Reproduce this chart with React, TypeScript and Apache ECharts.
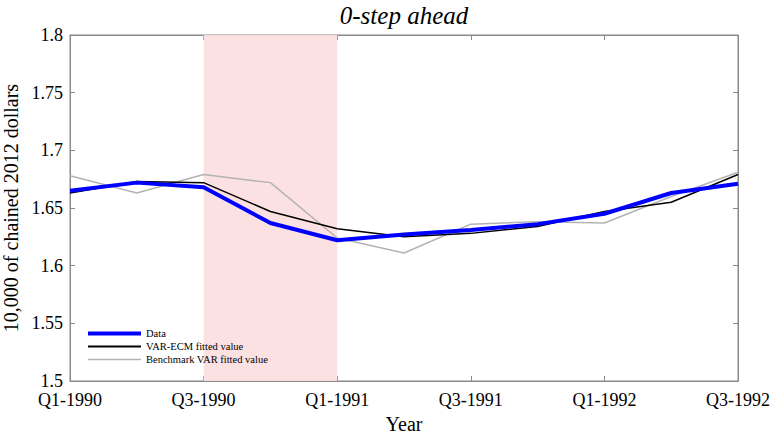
import React, { useEffect, useRef } from "react";
import * as echarts from "echarts";

const quarters = ["Q1-1990", "Q2-1990", "Q3-1990", "Q4-1990", "Q1-1991", "Q2-1991", "Q3-1991", "Q4-1991", "Q1-1992", "Q2-1992", "Q3-1992"];
const dataSeries = [1.665, 1.672, 1.668, 1.637, 1.622, 1.627, 1.631, 1.636, 1.645, 1.663, 1.671];
const varEcm = [1.663, 1.673, 1.672, 1.647, 1.632, 1.625, 1.628, 1.634, 1.647, 1.655, 1.679];
const benchmark = [1.678, 1.663, 1.679, 1.672, 1.624, 1.611, 1.636, 1.638, 1.637, 1.660, 1.681];
const recessionStart = "Q3-1990";
const recessionEnd = "Q1-1991";
const titleText = "0-step ahead";

const FONT = "'Liberation Serif', 'Times New Roman', Times, serif";

export default function App() {
  const ref = useRef<HTMLDivElement>(null);
  useEffect(() => {
    if (!ref.current) return;
    const chart = echarts.init(ref.current, null, { renderer: "svg" });
    const axisColor = "#8a8a8a";
    chart.setOption({
      animation: false,
      backgroundColor: "#ffffff",
      textStyle: { fontFamily: FONT },
      graphic: [
        {
          type: "text",
          x: 404,
          y: 3,
          style: {
            text: titleText,
            fill: "#000",
            font: "italic 25px 'Liberation Serif', 'Times New Roman', serif",
            textAlign: "center",
            textVerticalAlign: "top",
          },
        },
      ],
      grid: {
        left: 70,
        right: 34,
        top: 35,
        bottom: 57,
        containLabel: false,
        outerBoundsMode: "none",
        show: true,
        borderColor: axisColor,
        borderWidth: 1,
        backgroundColor: "transparent",
      },
      legend: {
        orient: "vertical",
        left: 81,
        top: 322,
        itemWidth: 53,
        itemHeight: 13,
        itemGap: 0,
        itemStyle: { opacity: 0 },
        textStyle: { fontFamily: FONT, fontSize: 10.5, lineHeight: 13, color: "#000" },
        data: [
          { name: "Data", lineStyle: { width: 4, color: "#0000ff" } },
          { name: "VAR-ECM fitted value", lineStyle: { width: 2, color: "#000000" } },
          { name: "Benchmark VAR fitted value", lineStyle: { width: 1.5, color: "#b3b3b3" } },
        ],
      },
      xAxis: [
        {
          type: "category",
          data: quarters,
          boundaryGap: false,
          name: "Year",
          nameLocation: "middle",
          nameGap: 31,
          nameTextStyle: { fontFamily: FONT, fontSize: 20, color: "#000" },
          axisLine: { show: true, lineStyle: { color: axisColor } },
          axisTick: { show: true, inside: true, length: 5, interval: 1, lineStyle: { color: axisColor } },
          axisLabel: { interval: 1, fontFamily: FONT, fontSize: 18, color: "#000", margin: 10 },
          splitLine: { show: false },
        },
        {
          type: "category",
          data: quarters,
          boundaryGap: false,
          position: "top",
          axisLine: { show: true, lineStyle: { color: axisColor } },
          axisTick: { show: true, inside: true, length: 5, interval: 1, lineStyle: { color: axisColor } },
          axisLabel: { show: false },
          splitLine: { show: false },
        },
      ],
      yAxis: [
        {
          type: "value",
          min: 1.5,
          max: 1.8,
          interval: 0.05,
          name: "10,000 of chained 2012 dollars",
          nameLocation: "middle",
          nameGap: 45,
          nameTextStyle: { fontFamily: FONT, fontSize: 20, color: "#000" },
          axisLine: { show: true, lineStyle: { color: axisColor } },
          axisTick: { show: true, inside: true, length: 5, lineStyle: { color: axisColor } },
          axisLabel: { fontFamily: FONT, fontSize: 18, color: "#000", margin: 7, formatter: (v: number) => String(parseFloat(v.toFixed(2))) },
          splitLine: { show: false },
        },
        {
          type: "value",
          min: 1.5,
          max: 1.8,
          interval: 0.05,
          position: "right",
          axisLine: { show: true, lineStyle: { color: axisColor } },
          axisTick: { show: true, inside: true, length: 5, lineStyle: { color: axisColor } },
          axisLabel: { show: false },
          splitLine: { show: false },
        },
      ],
      series: [
        {
          name: "Benchmark VAR fitted value",
          type: "line",
          data: benchmark,
          symbol: "none",
          z: 2,
          lineStyle: { color: "#b3b3b3", width: 1.5 },
          itemStyle: { color: "#b3b3b3" },
          markArea: {
            silent: true,
            itemStyle: { color: "rgba(252,222,224,0.9)" },
            data: [[{ xAxis: recessionStart }, { xAxis: recessionEnd }]],
          },
        },
        {
          name: "VAR-ECM fitted value",
          type: "line",
          data: varEcm,
          symbol: "none",
          z: 3,
          lineStyle: { color: "#000000", width: 1.5 },
          itemStyle: { color: "#000000" },
        },
        {
          name: "Data",
          type: "line",
          data: dataSeries,
          symbol: "none",
          z: 4,
          lineStyle: { color: "#0000ff", width: 4 },
          itemStyle: { color: "#0000ff" },
        },
      ],
    });
    return () => chart.dispose();
  }, []);
  return <div ref={ref} style={{ width: 772, height: 438, position: "absolute", left: 0, top: 0 }} />;
}
